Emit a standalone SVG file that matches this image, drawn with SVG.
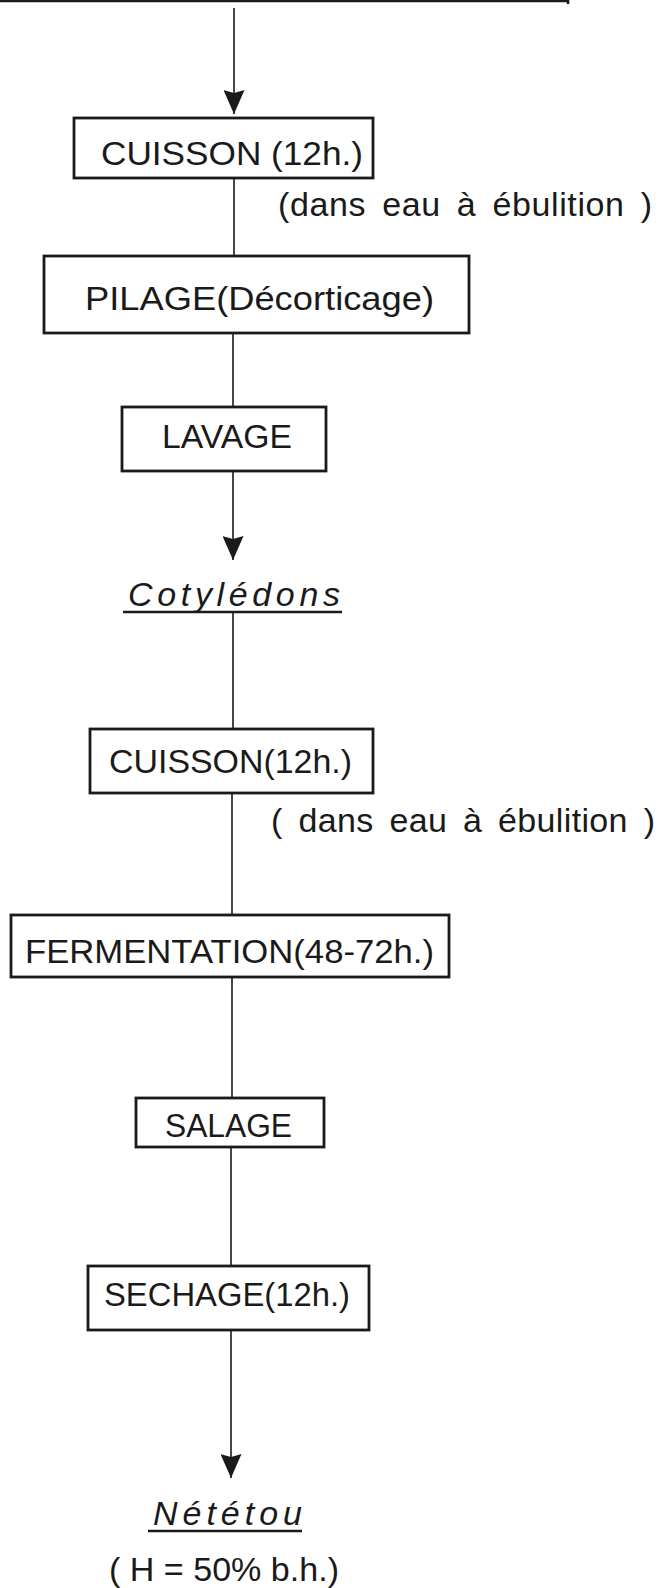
<svg xmlns="http://www.w3.org/2000/svg" width="660" height="1588" viewBox="0 0 660 1588">
<defs>
<marker id="ah" markerWidth="24" markerHeight="21" refX="24" refY="10.5" orient="auto" markerUnits="userSpaceOnUse" viewBox="0 0 24 21">
<path d="M0,0 L24,10.5 L0,21 L3,10.5 Z" fill="#1a1a1a"/>
</marker>
<style>
.box{fill:#fff;stroke:#1a1a1a;stroke-width:2.8}
.t{font-family:"Liberation Sans",Arial,sans-serif;font-size:34px;fill:#1a1a1a}
.it{font-style:italic}
.ln{stroke:#1a1a1a;stroke-width:1.6;fill:none}
.ul{stroke:#1a1a1a;stroke-width:2.6}
</style>
</defs>
<rect width="660" height="1588" fill="#fff"/>
<g id="top-edge">
<line class="ul" x1="0" y1="1" x2="569" y2="1"/>
<line class="ul" x1="568" y1="0" x2="568" y2="4"/>
</g>
<g id="connectors">
<line class="ln" x1="234" y1="8" x2="234" y2="114" marker-end="url(#ah)"/>
<line class="ln" x1="234" y1="178" x2="234" y2="256"/>
<line class="ln" x1="233" y1="333" x2="233" y2="407"/>
<line class="ln" x1="233" y1="471" x2="233" y2="560" marker-end="url(#ah)"/>
<line class="ln" x1="233" y1="612" x2="233" y2="729"/>
<line class="ln" x1="232" y1="793" x2="232" y2="915"/>
<line class="ln" x1="232" y1="977" x2="232" y2="1098"/>
<line class="ln" x1="231" y1="1147" x2="231" y2="1266"/>
<line class="ln" x1="231" y1="1330" x2="231" y2="1478" marker-end="url(#ah)"/>
</g>
<g id="n-cuisson1">
<rect class="box" x="74" y="118" width="299" height="60"/>
<text class="t" x="101" y="165" font-size="36" textLength="262" lengthAdjust="spacingAndGlyphs">CUISSON (12h.)</text>
</g>
<g id="l-eau1">
<text class="t" x="278" y="216" word-spacing="6" textLength="374" lengthAdjust="spacing">(dans eau à ébulition )</text>
</g>
<g id="n-pilage">
<rect class="box" x="44" y="256" width="425" height="77"/>
<text class="t" x="85" y="310" textLength="349" lengthAdjust="spacingAndGlyphs">PILAGE(Décorticage)</text>
</g>
<g id="n-lavage">
<rect class="box" x="122" y="407" width="204" height="64"/>
<text class="t" x="162" y="448" textLength="130" lengthAdjust="spacingAndGlyphs">LAVAGE</text>
</g>
<g id="n-cotyledons">
<text class="t it" x="128" y="606" font-size="36" textLength="212" lengthAdjust="spacing">Cotylédons</text>
<line class="ul" x1="123" y1="612" x2="342" y2="612"/>
</g>
<g id="n-cuisson2">
<rect class="box" x="90" y="729" width="283" height="64"/>
<text class="t" x="109" y="773" textLength="243" lengthAdjust="spacingAndGlyphs">CUISSON(12h.)</text>
</g>
<g id="l-eau2">
<text class="t" x="271" y="832" word-spacing="6" textLength="384" lengthAdjust="spacing">( dans eau à ébulition )</text>
</g>
<g id="n-fermentation">
<rect class="box" x="11" y="915" width="438" height="62"/>
<text class="t" x="25" y="963" textLength="409" lengthAdjust="spacingAndGlyphs">FERMENTATION(48-72h.)</text>
</g>
<g id="n-salage">
<rect class="box" x="136" y="1098" width="188" height="49"/>
<text class="t" x="165" y="1137" textLength="127" lengthAdjust="spacingAndGlyphs">SALAGE</text>
</g>
<g id="n-sechage">
<rect class="box" x="88" y="1266" width="281" height="64"/>
<text class="t" x="104" y="1306" textLength="246" lengthAdjust="spacingAndGlyphs">SECHAGE(12h.)</text>
</g>
<g id="n-netetou">
<text class="t it" x="153" y="1525" font-size="36" textLength="149" lengthAdjust="spacing">Nététou</text>
<line class="ul" x1="148" y1="1531" x2="302" y2="1531"/>
</g>
<g id="l-humidity">
<text class="t" x="109" y="1581" textLength="230" lengthAdjust="spacingAndGlyphs">( H = 50% b.h.)</text>
</g>
</svg>
